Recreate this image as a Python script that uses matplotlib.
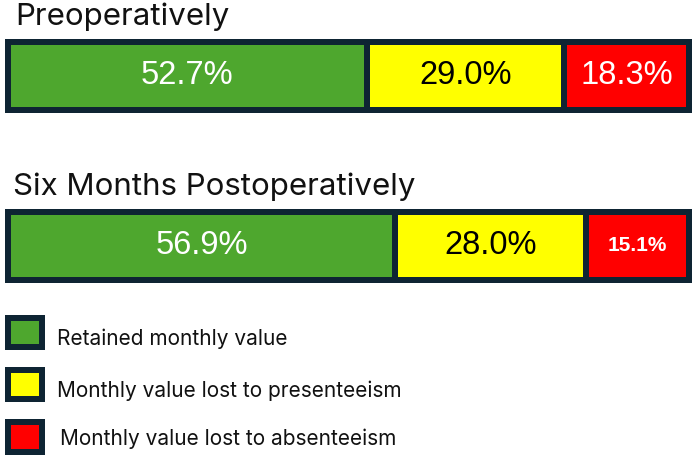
import matplotlib
matplotlib.use("Agg")
import matplotlib.pyplot as plt
from matplotlib.patches import Rectangle

# ---- data ----
periods = ["Preoperatively", "Six Months Postoperatively"]
categories = ["Retained monthly value", "Monthly value lost to presenteeism",
              "Monthly value lost to absenteeism"]
values = {
    "Preoperatively": [52.7, 29.0, 18.3],
    "Six Months Postoperatively": [56.9, 28.0, 15.1],
}
labels = {
    "Preoperatively": ["52.7%", "29.0%", "18.3%"],
    "Six Months Postoperatively": ["56.9%", "28.0%", "15.1%"],
}

# ---- style ----
colors = ["#4EA72E", "#FFFF00", "#FF0000"]
text_colors = ["white", "black", "white"]
edge = "#0E2433"
W, H = 696, 457
DPI = 100
lw_pt = 6 * 72 / DPI

fig = plt.figure(figsize=(W / DPI, H / DPI), dpi=DPI)
fig.patch.set_facecolor("white")

x0, x1 = 8, 689
ax = fig.add_axes([x0 / W, 0, (x1 - x0) / W, 1])
ax.set_xlim(0, 100)
# pixel p -> y = (p - 75.5) / 170
ax.set_ylim((H - 75.5) / 170, (0 - 75.5) / 170)
ax.axis("off")

bar_h = 68 / 170
label_sizes = {"Preoperatively": [23.5, 23.5, 23.5],
               "Six Months Postoperatively": [23.5, 23.5, 15]}
label_weights = {"Preoperatively": ["normal"] * 3,
                 "Six Months Postoperatively": ["normal", "normal", "bold"]}
for i, p in enumerate(periods):
    left = 0
    for j, v in enumerate(values[p]):
        bars = ax.barh(i, v, left=left, height=bar_h, color=colors[j],
                       edgecolor=edge, linewidth=lw_pt)
        for b in bars:
            b.set_clip_on(False)
            b.set_joinstyle("miter")
        ax.text(left + v / 2, i, labels[p][j], ha="center", va="center",
                color=text_colors[j], fontsize=label_sizes[p][j],
                fontweight=label_weights[p][j], family="Liberation Sans")
        left += v

# titles
title_font = "Inter"
fig.text(15 / W, 1 - 25 / H, periods[0], fontsize=22.5, family=title_font,
         va="baseline", ha="left", color="#111111")
fig.text(13 / W, 1 - 195 / H, periods[1], fontsize=22.5, family=title_font,
         va="baseline", ha="left", color="#111111")

# legend
sq_tops = [315, 367, 419]
sq_bots = [350, 402, 455]
txt_base = [345, 397, 445]
txt_x = [57, 57, 60]
for k, cat in enumerate(categories):
    t, b = sq_tops[k] + 3, sq_bots[k] - 3
    r = Rectangle((8 / W, 1 - b / H), 34 / W, (b - t) / H,
                  transform=fig.transFigure, facecolor=colors[k],
                  edgecolor=edge, linewidth=lw_pt, joinstyle="miter")
    fig.add_artist(r)
    fig.text(txt_x[k] / W, 1 - txt_base[k] / H, cat, fontsize=15,
             family=title_font, va="baseline", ha="left", color="#111111")

fig.savefig("out.png", dpi=DPI)
